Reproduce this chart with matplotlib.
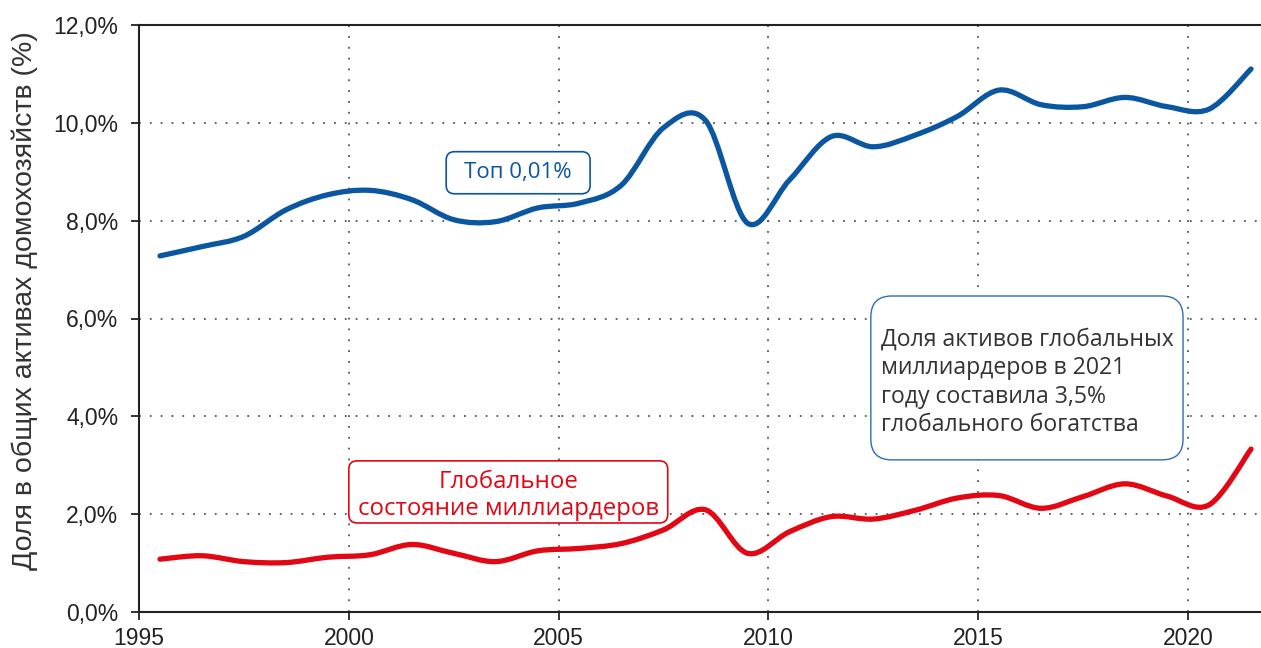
import numpy as np
import matplotlib
matplotlib.use("Agg")
import matplotlib.pyplot as plt
from matplotlib.path import Path
from matplotlib.patches import PathPatch, FancyBboxPatch
from matplotlib.ticker import FuncFormatter

# data (share of household assets, %)
years = np.arange(1995, 2022)
top001 = [7.28, 7.47, 7.68, 8.22, 8.53, 8.62, 8.43, 8.02, 7.98, 8.26,
          8.36, 8.73, 9.90, 10.05, 7.95, 8.83, 9.72, 9.51, 9.75, 10.13,
          10.67, 10.37, 10.33, 10.52, 10.33, 10.28, 11.10]
billionaires = [1.08, 1.15, 1.03, 1.01, 1.12, 1.17, 1.38, 1.20, 1.03, 1.25,
                1.30, 1.40, 1.68, 2.09, 1.20, 1.64, 1.95, 1.90, 2.08, 2.33,
                2.38, 2.12, 2.36, 2.62, 2.37, 2.19, 3.33]
xticks = [1995, 2000, 2005, 2010, 2015, 2020]
yticks = [0, 2, 4, 6, 8, 10, 12]

BLUE = "#0B56A0"
RED = "#E30613"
ANN_FONT = ["Open Sans", "DejaVu Sans"]

plt.rcParams["font.family"] = ["Liberation Sans", "DejaVu Sans"]


def smooth_path(x, y):
    # Bezier path through the points (like a spreadsheet "smoothed line")
    P = np.column_stack([x, y]).astype(float)
    n = len(P)
    verts = [P[0]]
    codes = [Path.MOVETO]
    for i in range(n - 1):
        p0 = P[i - 1] if i > 0 else P[i]
        p1, p2 = P[i], P[i + 1]
        p3 = P[i + 2] if i + 2 < n else P[i + 1]
        verts += [p1 + (p2 - p0) / 6, p2 - (p3 - p1) / 6, p2]
        codes += [Path.CURVE4] * 3
    return Path(verts, codes)


fig = plt.figure(figsize=(12.61, 6.48), dpi=100)
ax = fig.add_axes([139 / 1261, 1 - 612 / 648, (1272 - 139) / 1261, (612 - 25) / 648])

xpos = years + 0.5
for vals, col in [(top001, BLUE), (billionaires, RED)]:
    ax.add_patch(PathPatch(smooth_path(xpos, vals), facecolor="none", edgecolor=col,
                           lw=3.8, capstyle="round", joinstyle="round", zorder=3))

ax.set_xlim(1995, 2022)
ax.set_ylim(0, 12)
ax.set_xticks(xticks)
ax.set_yticks(yticks)
ax.yaxis.set_major_formatter(FuncFormatter(lambda v, p: f"{v:.1f}%".replace(".", ",")))
ax.tick_params(labelsize=16.5, colors="#222222", length=6, width=1.3, direction="out")
ax.tick_params(axis="y", pad=9)
ax.tick_params(axis="x", pad=5)
ax.grid(True, color="#555555", linestyle=(0, (1, 5)), lw=1.3)
for s in ["left", "bottom", "top"]:
    ax.spines[s].set_linewidth(1.5)
    ax.spines[s].set_color("#222222")
ax.spines["right"].set_visible(False)
ax.set_ylabel("Доля в общих активах домохозяйств (%)", fontsize=20.5, color="#333333")
ax.yaxis.set_label_coords(-0.089, 0.531)


def box(x0, y0, x1, y1, ec, r, lw=1.2):
    ax.add_patch(FancyBboxPatch((x0, y0), x1 - x0, y1 - y0,
                                boxstyle=f"round,pad=0,rounding_size={r}",
                                mutation_aspect=42 / 49, fc="white", ec=ec, lw=lw, zorder=4))


box(2002.32, 8.55, 2005.75, 9.41, BLUE, 0.2)
ax.text(2004.03, 8.98, "Топ 0,01%", color=BLUE, fontsize=16, family=ANN_FONT,
        ha="center", va="center", zorder=5)

box(2000.0, 1.82, 2007.6, 3.09, RED, 0.2)
ax.text(2003.8, 2.38, "Глобальное\nсостояние миллиардеров", color=RED, fontsize=17.3,
        family=ANN_FONT, ha="center", va="center", multialignment="center",
        linespacing=1.2, zorder=5)

box(2012.44, 3.11, 2019.88, 6.46, "#2E6DB0", 0.5, lw=1.0)
ax.text(2012.68, 4.69, "Доля активов глобальных\nмиллиардеров в 2021\nгоду составила 3,5%\nглобального богатства",
        color="#333333", fontsize=16.6, family=ANN_FONT, ha="left", va="center",
        linespacing=1.25, zorder=5)

fig.savefig("out.png", dpi=100)
